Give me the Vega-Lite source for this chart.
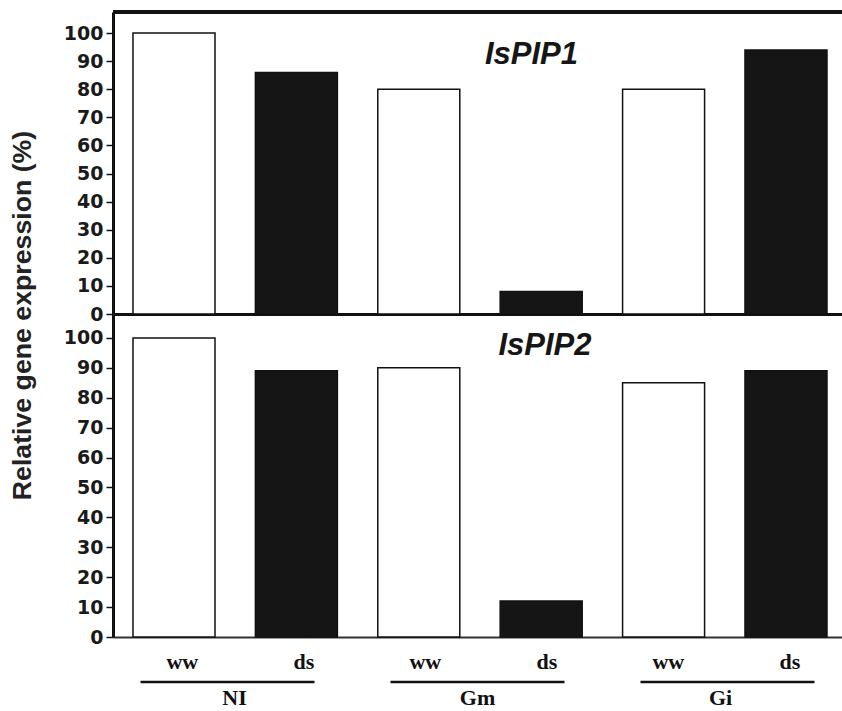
{
  "$schema": "https://vega.github.io/schema/vega-lite/v6.json",
  "background": "white",
  "padding": {"left": 9, "top": 10, "right": 0, "bottom": 0},
  "bounds": "flush",
  "spacing": 0,
  "config": {"view": {"stroke": null}, "axis": {"grid": false, "zindex": 1}},
  "datasets": {
    "expr": [
      {"gene": "IsPIP1", "group": "NI", "treatment": "ww", "bar": "NI ww", "value": 100},
      {"gene": "IsPIP1", "group": "NI", "treatment": "ds", "bar": "NI ds", "value": 86},
      {"gene": "IsPIP1", "group": "Gm", "treatment": "ww", "bar": "Gm ww", "value": 80},
      {"gene": "IsPIP1", "group": "Gm", "treatment": "ds", "bar": "Gm ds", "value": 8},
      {"gene": "IsPIP1", "group": "Gi", "treatment": "ww", "bar": "Gi ww", "value": 80},
      {"gene": "IsPIP1", "group": "Gi", "treatment": "ds", "bar": "Gi ds", "value": 94},
      {"gene": "IsPIP2", "group": "NI", "treatment": "ww", "bar": "NI ww", "value": 100},
      {"gene": "IsPIP2", "group": "NI", "treatment": "ds", "bar": "NI ds", "value": 89},
      {"gene": "IsPIP2", "group": "Gm", "treatment": "ww", "bar": "Gm ww", "value": 90},
      {"gene": "IsPIP2", "group": "Gm", "treatment": "ds", "bar": "Gm ds", "value": 12},
      {"gene": "IsPIP2", "group": "Gi", "treatment": "ww", "bar": "Gi ww", "value": 85},
      {"gene": "IsPIP2", "group": "Gi", "treatment": "ds", "bar": "Gi ds", "value": 89}
    ],
    "groups": [{"group": "NI"}, {"group": "Gm"}, {"group": "Gi"}]
  },
  "vconcat": [
    {
      "width": 729,
      "height": 302,
      "title": {"text": "IsPIP1", "font": "Liberation Sans", "fontSize": 31, "fontWeight": "bold", "fontStyle": "italic", "color": "#161616", "anchor": "middle", "frame": "group", "dx": 54, "offset": -84, "baseline": "alphabetic"},
      "data": {"name": "expr"},
      "transform": [{"filter": "datum.gene === 'IsPIP1'"}],
      "layer": [
        {
          "mark": {"type": "bar", "stroke": "#111111", "strokeWidth": 1.5},
          "encoding": {
            "x": {"field": "bar", "type": "nominal", "sort": null,
              "scale": {"domain": ["NI ww", "NI ds", "Gm ww", "Gm ds", "Gi ww", "Gi ds"], "paddingInner": 0.33, "paddingOuter": 0.143, "align": 0.571},
              "axis": {"orient": "bottom", "labels": false, "ticks": false, "title": null, "domain": true, "domainWidth": 3, "domainColor": "#111111"}},
            "y": {"field": "value", "type": "quantitative",
              "scale": {"domain": [0, 107.5], "nice": false, "zero": true},
              "axis": {"values": [0, 10, 20, 30, 40, 50, 60, 70, 80, 90, 100], "labelOverlap": false, "domainWidth": 3, "domainColor": "#111111", "tickSize": 7, "tickWidth": 1.5, "tickColor": "#111111", "labelFont": "DejaVu Sans", "labelFontWeight": "bold", "labelFontSize": 19, "labelColor": "#1a1a1a", "labelPadding": 3,
                "title": "Relative gene expression (%)", "titleX": -83, "titleY": 303, "titleAngle": 270, "titleAlign": "center", "titleBaseline": "alphabetic", "titleFont": "Liberation Sans", "titleFontWeight": "bold", "titleFontSize": 26.7, "titleColor": "#222222"}},
            "fill": {"field": "treatment", "type": "nominal", "scale": {"domain": ["ww", "ds"], "range": ["#ffffff", "#151515"]}, "legend": null}
          }
        },
        {
          "mark": {"type": "rule", "strokeWidth": 3, "color": "#111111"},
          "encoding": {"y": {"datum": 107.5,
            "axis": {"values": [0, 10, 20, 30, 40, 50, 60, 70, 80, 90, 100], "labelOverlap": false, "domainWidth": 3, "domainColor": "#111111", "tickSize": 7, "tickWidth": 1.5, "tickColor": "#111111", "labelFont": "DejaVu Sans", "labelFontWeight": "bold", "labelFontSize": 19, "labelColor": "#1a1a1a", "labelPadding": 3,
                "title": "Relative gene expression (%)", "titleX": -83, "titleY": 303, "titleAngle": 270, "titleAlign": "center", "titleBaseline": "alphabetic", "titleFont": "Liberation Sans", "titleFontWeight": "bold", "titleFontSize": 26.7, "titleColor": "#222222"}}}
        }
      ]
    },
    {
      "width": 729,
      "height": 323,
      "title": {"text": "IsPIP2", "font": "Liberation Sans", "fontSize": 31, "fontWeight": "bold", "fontStyle": "italic", "color": "#161616", "anchor": "middle", "frame": "group", "dx": 67.5, "offset": -72, "baseline": "alphabetic"},
      "data": {"name": "expr"},
      "transform": [{"filter": "datum.gene === 'IsPIP2'"}],
      "mark": {"type": "bar", "stroke": "#111111", "strokeWidth": 1.5},
      "encoding": {
        "x": {"field": "bar", "type": "nominal", "sort": null,
          "scale": {"domain": ["NI ww", "NI ds", "Gm ww", "Gm ds", "Gi ww", "Gi ds"], "paddingInner": 0.33, "paddingOuter": 0.143, "align": 0.571},
          "axis": {"orient": "bottom", "labels": false, "ticks": false, "title": null, "domain": true, "domainWidth": 2, "domainColor": "#333333"}},
        "y": {"field": "value", "type": "quantitative",
          "scale": {"domain": [0, 108], "nice": false, "zero": true},
          "axis": {"values": [0, 10, 20, 30, 40, 50, 60, 70, 80, 90, 100], "labelOverlap": false, "domainWidth": 3, "domainColor": "#111111", "tickSize": 7, "tickWidth": 1.5, "tickColor": "#111111", "labelFont": "DejaVu Sans", "labelFontWeight": "bold", "labelFontSize": 19, "labelColor": "#1a1a1a", "labelPadding": 3, "title": null}},
        "fill": {"field": "treatment", "type": "nominal", "scale": {"domain": ["ww", "ds"], "range": ["#ffffff", "#151515"]}, "legend": null}
      }
    },
    {
      "width": 729,
      "height": 71,
      "layer": [
        {
          "data": {"name": "expr"},
          "transform": [{"filter": "datum.gene === 'IsPIP1' && datum.treatment === 'ww'"}],
          "mark": {"type": "text", "font": "Liberation Serif", "fontWeight": "bold", "fontSize": 22, "baseline": "alphabetic", "align": "center", "color": "#111111"},
          "encoding": {
            "x": {"field": "bar", "type": "nominal", "bandPosition": 0.38,
              "scale": {"domain": ["NI ww", "NI ds", "Gm ww", "Gm ds", "Gi ww", "Gi ds"], "paddingInner": 0.33, "paddingOuter": 0.143, "align": 0.571}, "axis": null},
            "y": {"value": 32},
            "text": {"field": "treatment"}
          }
        },
        {
          "data": {"name": "expr"},
          "transform": [{"filter": "datum.gene === 'IsPIP1' && datum.treatment === 'ds'"}],
          "mark": {"type": "text", "font": "Liberation Serif", "fontWeight": "bold", "fontSize": 22, "baseline": "alphabetic", "align": "center", "color": "#111111"},
          "encoding": {
            "x": {"field": "bar", "type": "nominal", "bandPosition": 0.66,
              "scale": {"domain": ["NI ww", "NI ds", "Gm ww", "Gm ds", "Gi ww", "Gi ds"], "paddingInner": 0.33, "paddingOuter": 0.143, "align": 0.571}, "axis": null},
            "y": {"value": 32},
            "text": {"field": "treatment"}
          }
        },
        {
          "data": {"name": "groups"},
          "mark": {"type": "rule", "strokeWidth": 2.5, "color": "#111111"},
          "encoding": {
            "x": {"field": "group", "type": "nominal", "bandPosition": 0,
              "scale": {"domain": ["NI", "Gm", "Gi"], "paddingInner": 0.304, "paddingOuter": 0.11}, "axis": null},
            "x2": {"field": "group", "bandPosition": 1},
            "y": {"value": 45}
          }
        },
        {
          "data": {"name": "groups"},
          "mark": {"type": "text", "font": "Liberation Serif", "fontWeight": "bold", "fontSize": 22, "baseline": "alphabetic", "align": "center", "color": "#111111"},
          "encoding": {
            "x": {"field": "group", "type": "nominal",
              "scale": {"domain": ["NI", "Gm", "Gi"], "paddingInner": 0.304, "paddingOuter": 0.11}, "axis": null},
            "y": {"value": 68},
            "text": {"field": "group"}
          }
        }
      ],
      "resolve": {"scale": {"x": "independent"}}
    }
  ]
}
